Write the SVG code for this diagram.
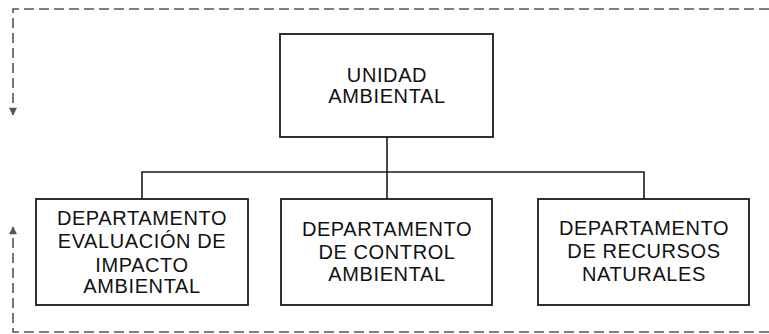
<svg xmlns="http://www.w3.org/2000/svg" width="769" height="334" viewBox="0 0 769 334">
<style>
.box{fill:#fff;stroke:#1a1a1a;stroke-width:1.8}
.lbl{font-family:"Liberation Sans",Arial,sans-serif;font-size:20px;letter-spacing:0.6px;fill:#111;text-anchor:middle}
.con{fill:none;stroke:#1a1a1a;stroke-width:1.6}
.dash{fill:none;stroke:#555;stroke-width:1.6;stroke-dasharray:10 5}
</style>
<defs>
<marker id="ah" viewBox="0 0 10 10" refX="9" refY="5" markerWidth="9" markerHeight="8" orient="auto" markerUnits="userSpaceOnUse">
<path d="M0,0 L10,5 L0,10 Z" fill="#555"/>
</marker>
</defs>
<rect width="769" height="334" fill="#fff"/>
<g id="feedback">
<path class="dash" d="M769,9 H13 V115" marker-end="url(#ah)"/>
<path class="dash" d="M769,332 H13 V227" marker-end="url(#ah)"/>
</g>
<g id="connectors">
<path class="con" d="M387,137 V199"/>
<path class="con" d="M142,199 V172 H644 V199"/>
</g>
<g id="unidad">
<rect class="box" x="280" y="34" width="213" height="103"/>
<text class="lbl" x="387" y="82">UNIDAD</text>
<text class="lbl" x="387" y="103">AMBIENTAL</text>
</g>
<g id="dep-evaluacion">
<rect class="box" x="36" y="199" width="212" height="106"/>
<text class="lbl" x="142" y="225">DEPARTAMENTO</text>
<text class="lbl" x="142" y="248">EVALUACIÓN DE</text>
<text class="lbl" x="142" y="272">IMPACTO</text>
<text class="lbl" x="142" y="293">AMBIENTAL</text>
</g>
<g id="dep-control">
<rect class="box" x="281" y="199" width="211" height="106"/>
<text class="lbl" x="387" y="236">DEPARTAMENTO</text>
<text class="lbl" x="387" y="259">DE CONTROL</text>
<text class="lbl" x="387" y="281">AMBIENTAL</text>
</g>
<g id="dep-recursos">
<rect class="box" x="538" y="199" width="211" height="106"/>
<text class="lbl" x="644" y="235">DEPARTAMENTO</text>
<text class="lbl" x="644" y="258">DE RECURSOS</text>
<text class="lbl" x="644" y="281">NATURALES</text>
</g>
</svg>
